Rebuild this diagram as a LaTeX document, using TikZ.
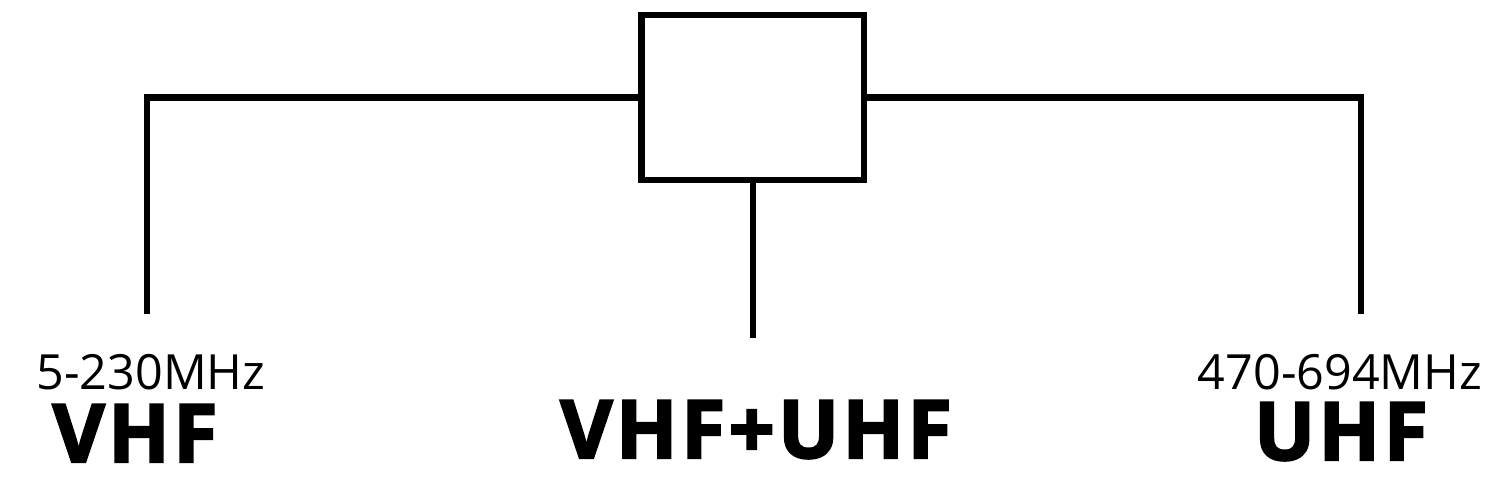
\documentclass[tikz,border=0pt]{standalone}
\usepackage{fontspec}
\setmainfont{Open Sans}
\newfontfamily\heavyfont{Open Sans}[UprightFont={* Bold}, FakeBold=2.5]
\begin{document}
\begin{tikzpicture}[line width=0.065cm,
	band/.style={inner sep=0pt, anchor=base, font=\fontsize{13.8pt}{16pt}\selectfont},
	title/.style={inner sep=0pt, anchor=base, font=\fontsize{23pt}{26pt}\heavyfont}]

\useasboundingbox (0,0) rectangle (15.06,5.03);

\node[draw, rectangle, minimum width=2.225cm, minimum height=1.65cm, inner sep=0pt](box) at(7.5275,4.055) {};

\coordinate(lcorner) at(1.47,4.055);
\coordinate(lend) at(1.47,1.89);
\coordinate(rcorner) at(13.61,4.055);
\coordinate(rend) at(13.61,1.89);
\coordinate(cend) at(7.5275,1.65);

\draw (box.west) -- (lcorner) -- (lend);
\draw (box.east) -- (rcorner) -- (rend);
\draw (box.south) -- (cend);

\node[band](vhfrange) at(1.51,1.13) {5-230MHz};
\node[title](vhf) at(1.35,0.41) {\addfontfeature{LetterSpace=4}VHF};
\node[title](both) at(7.56,0.45) {\addfontfeature{LetterSpace=4}VHF+UHF};
\node[band](uhfrange) at(13.40,1.13) {470-694MHz};
\node[title](uhf) at(13.41,0.43) {\addfontfeature{LetterSpace=4}UHF};

\end{tikzpicture}
\end{document}
